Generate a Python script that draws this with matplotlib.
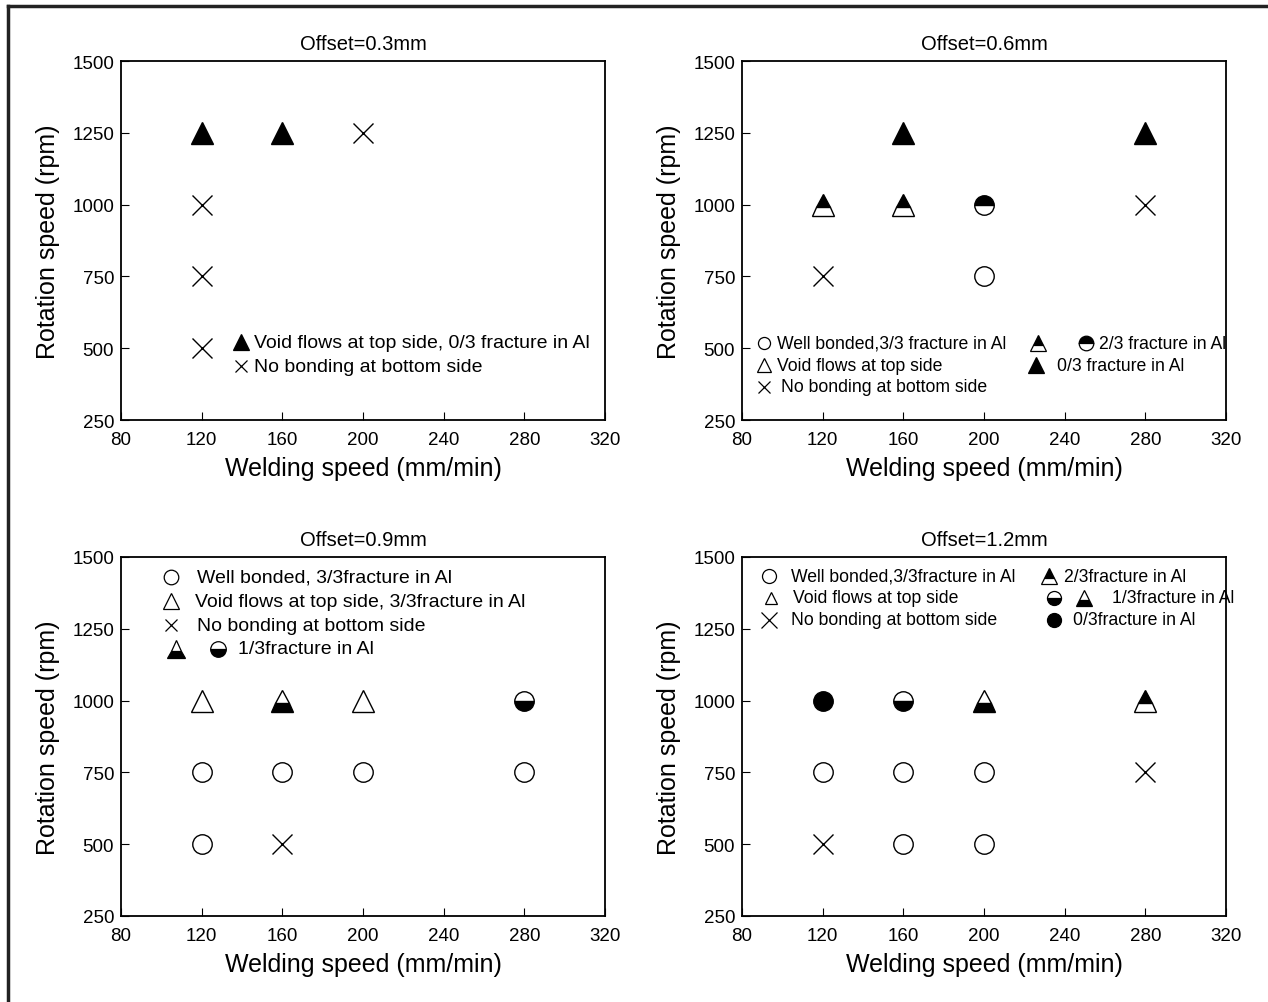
import matplotlib.pyplot as plt
from matplotlib.lines import Line2D

plt.rcParams['font.family'] = ['Liberation Sans', 'DejaVu Sans']

# data: (welding speed, rotation speed) per category and offset
# keys: open circle, open triangle, cross, full triangle, triangle 2/3 (top),
# circle 2/3 (top), triangle 1/3 (bottom), circle 1/3 (bottom), full circle
off03 = {
    "tri_full": ([120, 160], [1250, 1250]),
    "cross": ([200, 120, 120, 120], [1250, 1000, 750, 500]),
}
off06 = {
    "tri_full": ([160, 280], [1250, 1250]),
    "tri_top": ([120, 160], [1000, 1000]),
    "circ_top": ([200], [1000]),
    "circ_open": ([200], [750]),
    "cross": ([120, 280], [750, 1000]),
}
off09 = {
    "tri_open": ([120, 200], [1000, 1000]),
    "tri_bot": ([160], [1000]),
    "circ_bot": ([280], [1000]),
    "circ_open": ([120, 160, 200, 280, 120], [750, 750, 750, 750, 500]),
    "cross": ([160], [500]),
}
off12 = {
    "circ_full": ([120], [1000]),
    "circ_bot": ([160], [1000]),
    "tri_bot": ([200], [1000]),
    "tri_top": ([280], [1000]),
    "circ_open": ([120, 160, 200, 160, 200], [750, 750, 750, 500, 500]),
    "cross": ([280, 120], [750, 500]),
}
titles = ["Offset=0.3mm", "Offset=0.6mm", "Offset=0.9mm", "Offset=1.2mm"]
xticks = [80, 120, 160, 200, 240, 280, 320]
yticks = [250, 500, 750, 1000, 1250, 1500]

styles = {
    "circ_open": dict(marker="o", mfc="white", ms=14),
    "circ_full": dict(marker="o", mfc="black", ms=14),
    "circ_top": dict(marker="o", fillstyle="top", mfc="black", mfcalt="white", ms=14),
    "circ_bot": dict(marker="o", fillstyle="bottom", mfc="black", mfcalt="white", ms=14),
    "tri_open": dict(marker="^", mfc="white", ms=16),
    "tri_full": dict(marker="^", mfc="black", ms=16),
    "tri_top": dict(marker="^", fillstyle="top", mfc="black", mfcalt="white", ms=16),
    "tri_bot": dict(marker="^", fillstyle="bottom", mfc="black", mfcalt="white", ms=16),
    "cross": dict(marker="x", ms=15),
}


def key(ax, x, y, kind, scale=0.62):
    st = dict(styles[kind])
    st["ms"] = st["ms"] * scale
    ax.plot([x], [y], ls="none", mec="black", color="black", mew=0.9,
            transform=ax.transAxes, clip_on=False, **st)


def label(ax, x, y, s, size=12.7):
    ax.text(x, y, s, transform=ax.transAxes, fontsize=size, va="center", ha="left")


fig = plt.figure(figsize=(12.68, 10.03), dpi=100)
W, H = 1268, 1003
boxes = [(121, 62), (742, 62), (121, 558), (742, 558)]
axes = []
for (l, t), title, data in zip(boxes, titles, [off03, off06, off09, off12]):
    ax = fig.add_axes([l / W, 1 - (t + 359) / H, 484 / W, 359 / H])
    for kind, (xs, ys) in data.items():
        ax.plot(xs, ys, ls="none", mec="black", color="black", mew=1.0, **styles[kind])
    ax.set_xlim(80, 320)
    ax.set_ylim(250, 1500)
    ax.set_xticks(xticks)
    ax.set_yticks(yticks)
    ax.tick_params(direction="in", length=6, labelsize=13.5)
    ax.tick_params(axis="x", pad=8)
    ax.tick_params(axis="y", pad=5)
    ax.set_xlabel("Welding speed (mm/min)", fontsize=18, labelpad=6)
    ax.set_ylabel("Rotation speed (rpm)", fontsize=18, labelpad=9)
    ax.set_title(title, fontsize=14.5, pad=9)
    for sp in ax.spines.values():
        sp.set_linewidth(1.3)
    axes.append(ax)

# legends
a1, a2, a3, a4 = axes
key(a1, 0.248, 0.217, "tri_full", 0.7)
label(a1, 0.275, 0.217, "Void flows at top side, 0/3 fracture in Al", 14)
key(a1, 0.248, 0.150, "cross", 0.6)
label(a1, 0.275, 0.150, "No bonding at bottom side", 14)

key(a2, 0.045, 0.214, "circ_open")
label(a2, 0.072, 0.214, "Well bonded,3/3 fracture in Al")
key(a2, 0.045, 0.153, "tri_open")
label(a2, 0.072, 0.153, "Void flows at top side")
key(a2, 0.045, 0.092, "cross")
label(a2, 0.080, 0.092, "No bonding at bottom side")
key(a2, 0.612, 0.214, "tri_top", 0.75)
key(a2, 0.711, 0.214, "circ_top", 0.75)
label(a2, 0.738, 0.214, "2/3 fracture in Al")
key(a2, 0.608, 0.153, "tri_full", 0.75)
label(a2, 0.651, 0.153, "0/3 fracture in Al")

key(a3, 0.103, 0.944, "circ_open", 0.75)
label(a3, 0.157, 0.944, "Well bonded, 3/3fracture in Al", 14)
key(a3, 0.103, 0.877, "tri_open", 0.75)
label(a3, 0.152, 0.877, "Void flows at top side, 3/3fracture in Al", 14)
key(a3, 0.103, 0.810, "cross", 0.6)
label(a3, 0.157, 0.810, "No bonding at bottom side", 14)
key(a3, 0.113, 0.744, "tri_bot", 0.8)
key(a3, 0.200, 0.744, "circ_bot", 0.8)
label(a3, 0.242, 0.744, "1/3fracture in Al", 14)

key(a4, 0.056, 0.947, "circ_open", 0.72)
label(a4, 0.101, 0.947, "Well bonded,3/3fracture in Al")
key(a4, 0.060, 0.886, "tri_open", 0.5)
label(a4, 0.105, 0.886, "Void flows at top side")
key(a4, 0.056, 0.825, "cross", 0.75)
label(a4, 0.101, 0.825, "No bonding at bottom side")
key(a4, 0.635, 0.947, "tri_top", 0.72)
label(a4, 0.666, 0.947, "2/3fracture in Al")
key(a4, 0.645, 0.886, "circ_bot", 0.72)
key(a4, 0.707, 0.886, "tri_bot", 0.72)
label(a4, 0.764, 0.886, "1/3fracture in Al")
key(a4, 0.645, 0.825, "circ_full", 0.72)
label(a4, 0.683, 0.825, "0/3fracture in Al")

# outer frame (top and left only)
fig.add_artist(Line2D([8 / W, 1], [1 - 7 / H, 1 - 7 / H], color="#222222", lw=2.5))
fig.add_artist(Line2D([8 / W, 8 / W], [0, 1 - 7 / H], color="#222222", lw=2.5))

plt.savefig("out.png", dpi=100)
